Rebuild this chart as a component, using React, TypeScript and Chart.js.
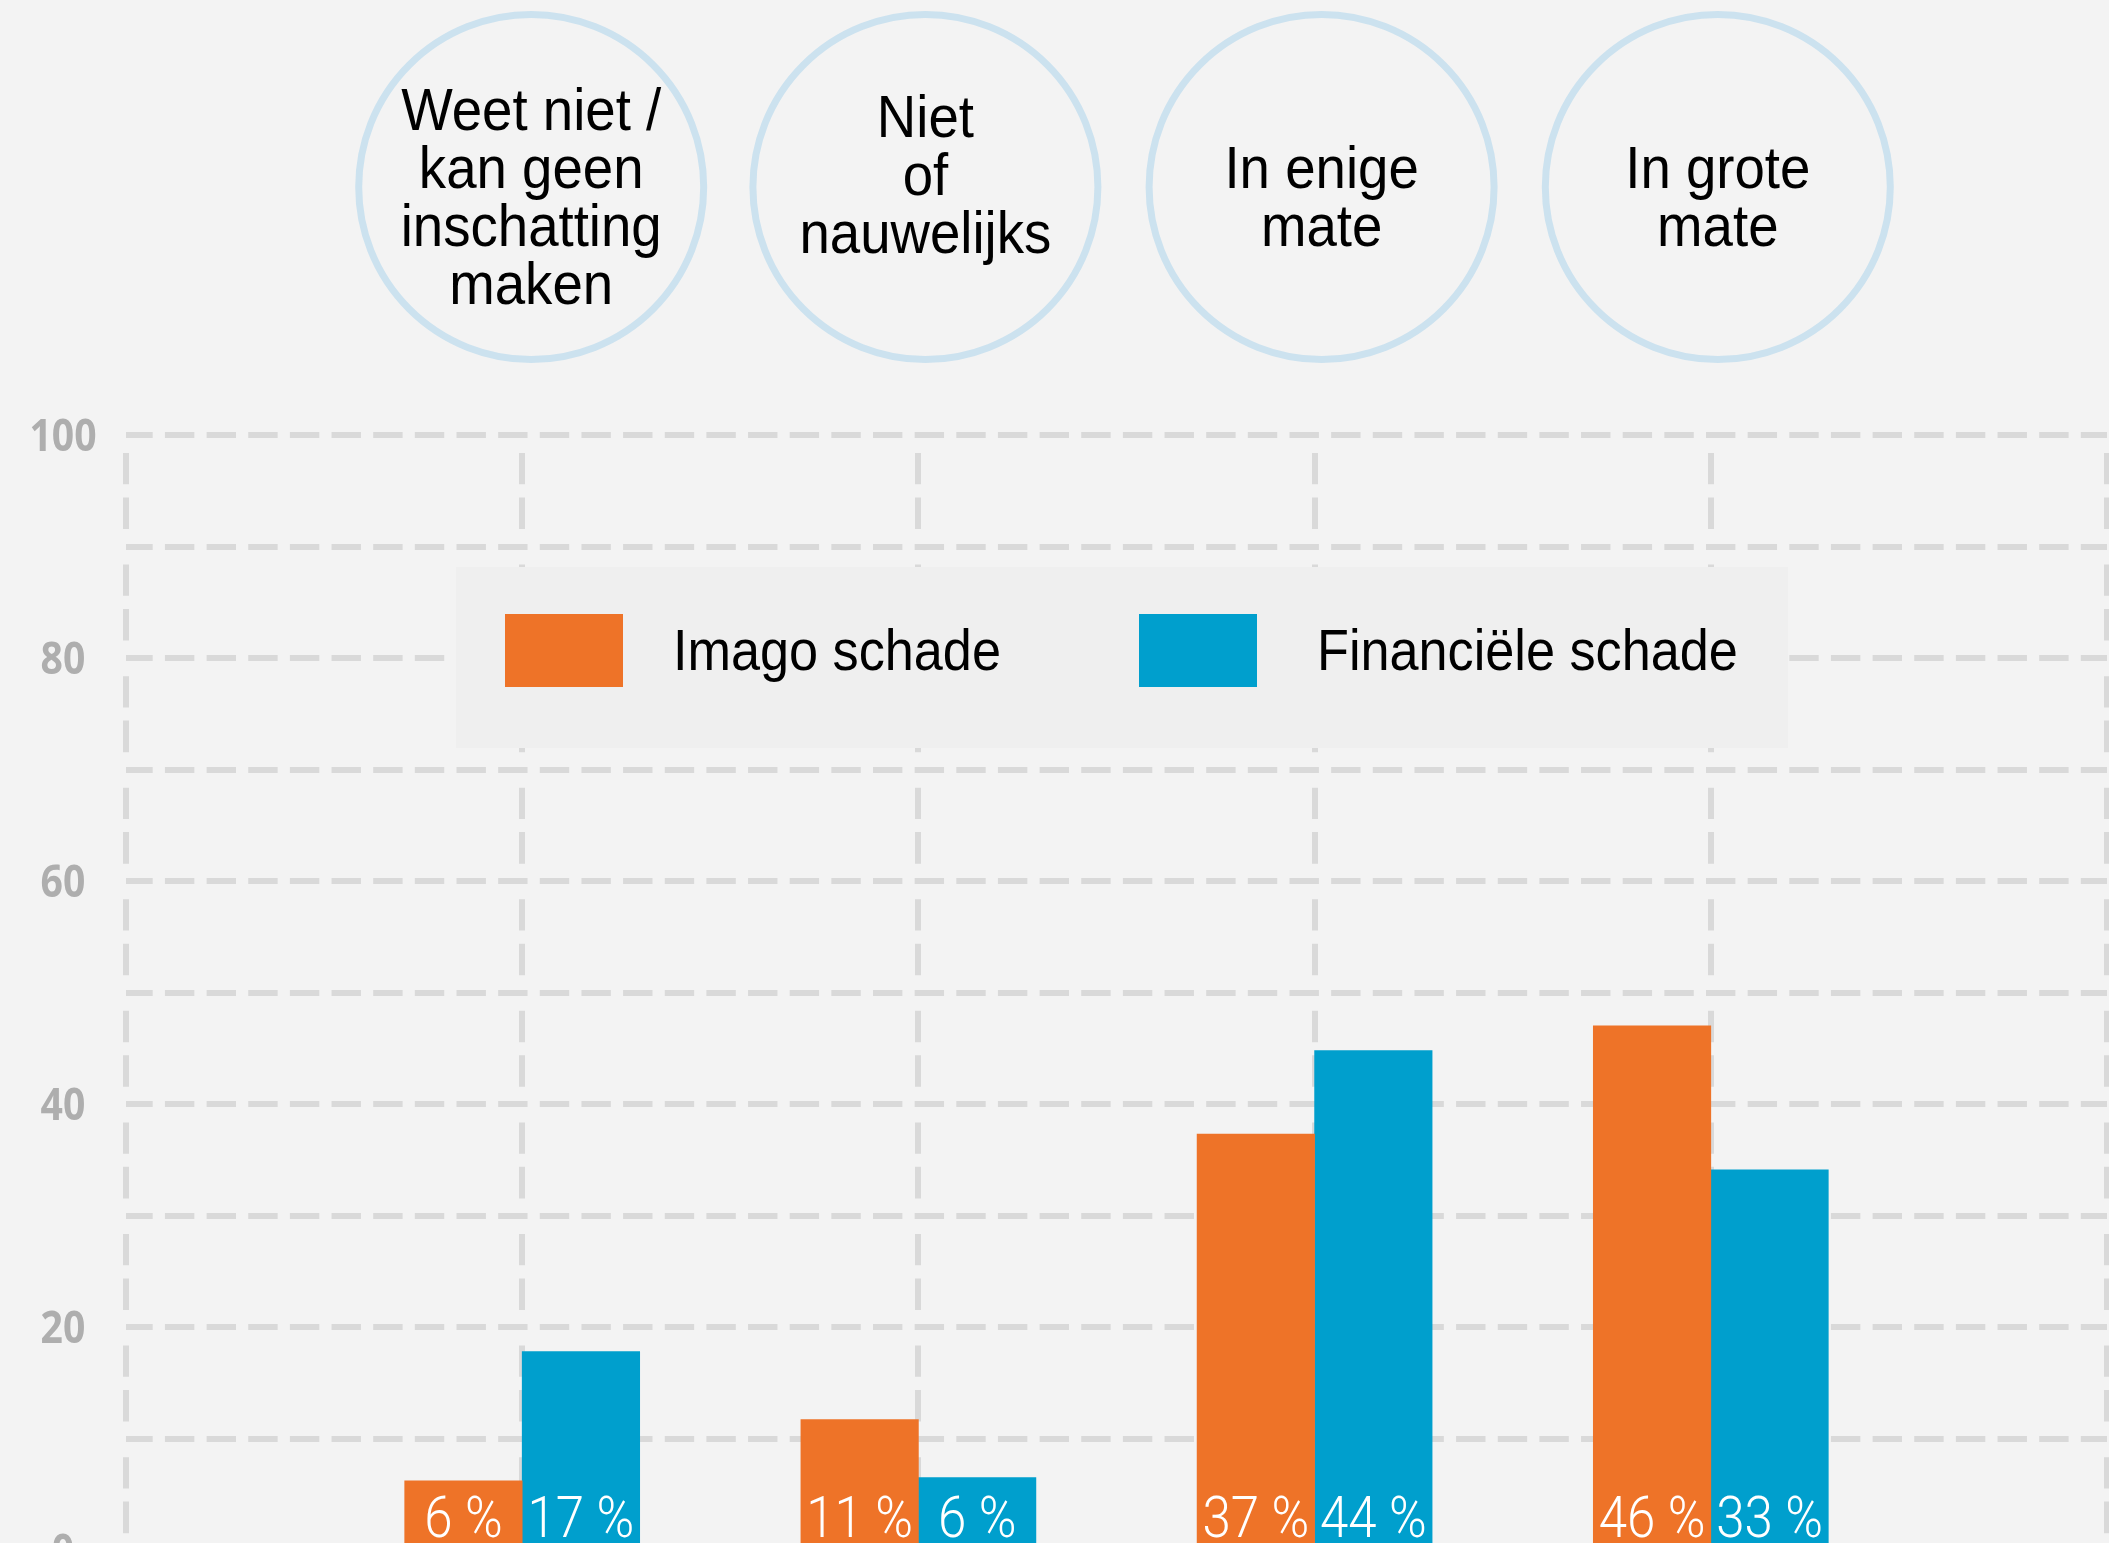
import React, { useEffect, useRef } from 'react';
import { Chart, registerables } from 'chart.js';

Chart.register(...registerables);

// ---------- data ----------
const CATEGORIES = [
  'Weet niet / kan geen inschatting maken',
  'Niet of nauwelijks',
  'In enige mate',
  'In grote mate',
];
const CATEGORY_LINES = [
  ['Weet niet /', 'kan geen', 'inschatting', 'maken'],
  ['Niet', 'of', 'nauwelijks'],
  ['In enige', 'mate'],
  ['In grote', 'mate'],
];
const SERIES_NAMES = ['Imago schade', 'Financiële schade'];
const IMAGO_VALUES = [6.2, 11.7, 37.3, 47.0];
const FINANCIEEL_VALUES = [17.8, 6.5, 44.8, 34.1];
const IMAGO_LABELS = ['6 %', '11 %', '37 %', '46 %'];
const FINANCIEEL_LABELS = ['17 %', '6 %', '44 %', '33 %'];
const Y_TICK_LABELS = [0, 20, 40, 60, 80, 100];

// ---------- style ----------
const BG = '#f3f3f3';
const LEGEND_BG = '#efefef';
const ORANGE = '#ee7328';
const BLUE = '#009fcd';
const GRID = '#d9d9d9';
const RING = '#cce2ef';
const TEXT_FONT = '"Liberation Sans", Arial, sans-serif';
const CIRCLE_TEXT_SHIFT = [0, -22, 0, 0];
const CIRCLE_X_SHIFT = [9, 7, 7, 7];

function scaledText(
  ctx: CanvasRenderingContext2D,
  text: string,
  x: number,
  y: number,
  font: string,
  color: string,
  sx: number,
  align: CanvasTextAlign
) {
  ctx.save();
  ctx.font = font;
  ctx.fillStyle = color;
  ctx.textAlign = align;
  ctx.textBaseline = 'alphabetic';
  ctx.translate(x, y);
  ctx.scale(sx, 1);
  ctx.fillText(text, 0, 0);
  ctx.restore();
}

const overlayPlugin = {
  id: 'overlay',
  beforeDatasetsDraw(chart: any) {
    const ctx: CanvasRenderingContext2D = chart.ctx;
    ctx.save();
    ctx.fillStyle = LEGEND_BG;
    ctx.fillRect(456, 567, 1332, 181);
    const colors = [ORANGE, BLUE];
    const swatchX = [505, 1139];
    const textX = [673, 1317];
    SERIES_NAMES.forEach((name, i) => {
      ctx.fillStyle = colors[i];
      ctx.fillRect(swatchX[i], 614, 118, 73);
      scaledText(ctx, name, textX[i], 670, `58px ${TEXT_FONT}`, '#000', 0.9, 'left');
    });
    ctx.restore();
  },
  afterDatasetsDraw(chart: any) {
    const ctx: CanvasRenderingContext2D = chart.ctx;
    const zeroY = chart.scales.y.getPixelForValue(0);
    const labelSets = [IMAGO_LABELS, FINANCIEEL_LABELS];
    [0, 1].forEach((d) => {
      const meta = chart.getDatasetMeta(d);
      meta.data.forEach((bar: any, idx: number) => {
        const label = labelSets[d][idx - 1];
        if (!label) return;
        scaledText(ctx, label, bar.x, zeroY - 13, `300 58px Roboto, ${TEXT_FONT}`, '#ffffff', 0.88, 'center');
      });
    });
  },
  afterDraw(chart: any) {
    const ctx: CanvasRenderingContext2D = chart.ctx;
    const xs = chart.scales.x;
    const ys = chart.scales.y;
    // y-axis tick labels (from the scale's own ticks)
    ys.ticks.forEach((t: any) => {
      if (!Y_TICK_LABELS.includes(t.value)) return;
      const y = ys.getPixelForValue(t.value) + 16;
      scaledText(ctx, String(t.value), 63, y, `bold 45px "Open Sans", ${TEXT_FONT}`, '#aeaeae', 0.87, 'center');
    });
    const cy = 187;
    CATEGORY_LINES.forEach((lines, i) => {
      const cx = xs.getPixelForValue(i + 1) + CIRCLE_X_SHIFT[i];
      ctx.save();
      ctx.beginPath();
      ctx.arc(cx, cy, 172.5, 0, Math.PI * 2);
      ctx.lineWidth = 7;
      ctx.strokeStyle = RING;
      ctx.stroke();
      ctx.restore();
      const n = lines.length;
      lines.forEach((line, j) => {
        const y = cy + 30 + CIRCLE_TEXT_SHIFT[i] + (j - (n - 1) / 2) * 58.3;
        scaledText(ctx, line, cx, y, `60px ${TEXT_FONT}`, '#000', 0.91, 'center');
      });
    });
  },
};

export default function App() {
  const ref = useRef<HTMLCanvasElement>(null);
  useEffect(() => {
    document.body.style.margin = '0';
    const labels = ['', ...CATEGORIES, ''];
    const chart = new Chart(ref.current as HTMLCanvasElement, {
      type: 'bar',
      data: {
        labels,
        datasets: [
          {
            label: SERIES_NAMES[0],
            data: [null, ...IMAGO_VALUES, null],
            backgroundColor: ORANGE,
            borderWidth: 0,
            barThickness: 117.5,
          },
          {
            label: SERIES_NAMES[1],
            data: [null, ...FINANCIEEL_VALUES, null],
            backgroundColor: BLUE,
            borderWidth: 0,
            barThickness: 117.5,
          },
        ],
      },
      options: {
        responsive: false,
        maintainAspectRatio: false,
        animation: false,
        layout: { padding: { top: 435, left: 0, right: 2, bottom: 50 } },
        plugins: {
          legend: { display: false },
          tooltip: { enabled: false },
          title: { display: false },
        },
        scales: {
          x: {
            type: 'category',
            offset: false,
            grid: { offset: false, color: GRID, lineWidth: 6, drawTicks: false },
            border: { display: false, dash: [31.3, 13.1, 31.6, 35.57], dashOffset: 93.57 },
            ticks: { display: false },
            afterFit: (s: any) => {
              s.height = 0;
            },
          },
          y: {
            min: 0,
            max: 100,
            grid: { color: GRID, lineWidth: 6, drawTicks: false },
            border: { display: false, dash: [29.4, 12.25], dashOffset: 2.7 },
            ticks: {
              stepSize: 10,
              autoSkip: false,
              display: false,
            },
            afterFit: (s: any) => {
              s.width = 126;
            },
          },
        },
      },
      plugins: [overlayPlugin],
    } as any);
    return () => chart.destroy();
  }, []);
  return (
    <div
      style={{
        position: 'fixed',
        left: 0,
        top: 0,
        width: 2109,
        height: 1543,
        overflow: 'hidden',
        background: BG,
      }}
    >
      <canvas
        ref={ref}
        width={2109}
        height={1600}
        style={{ display: 'block', width: 2109, height: 1600 }}
      />
    </div>
  );
}
